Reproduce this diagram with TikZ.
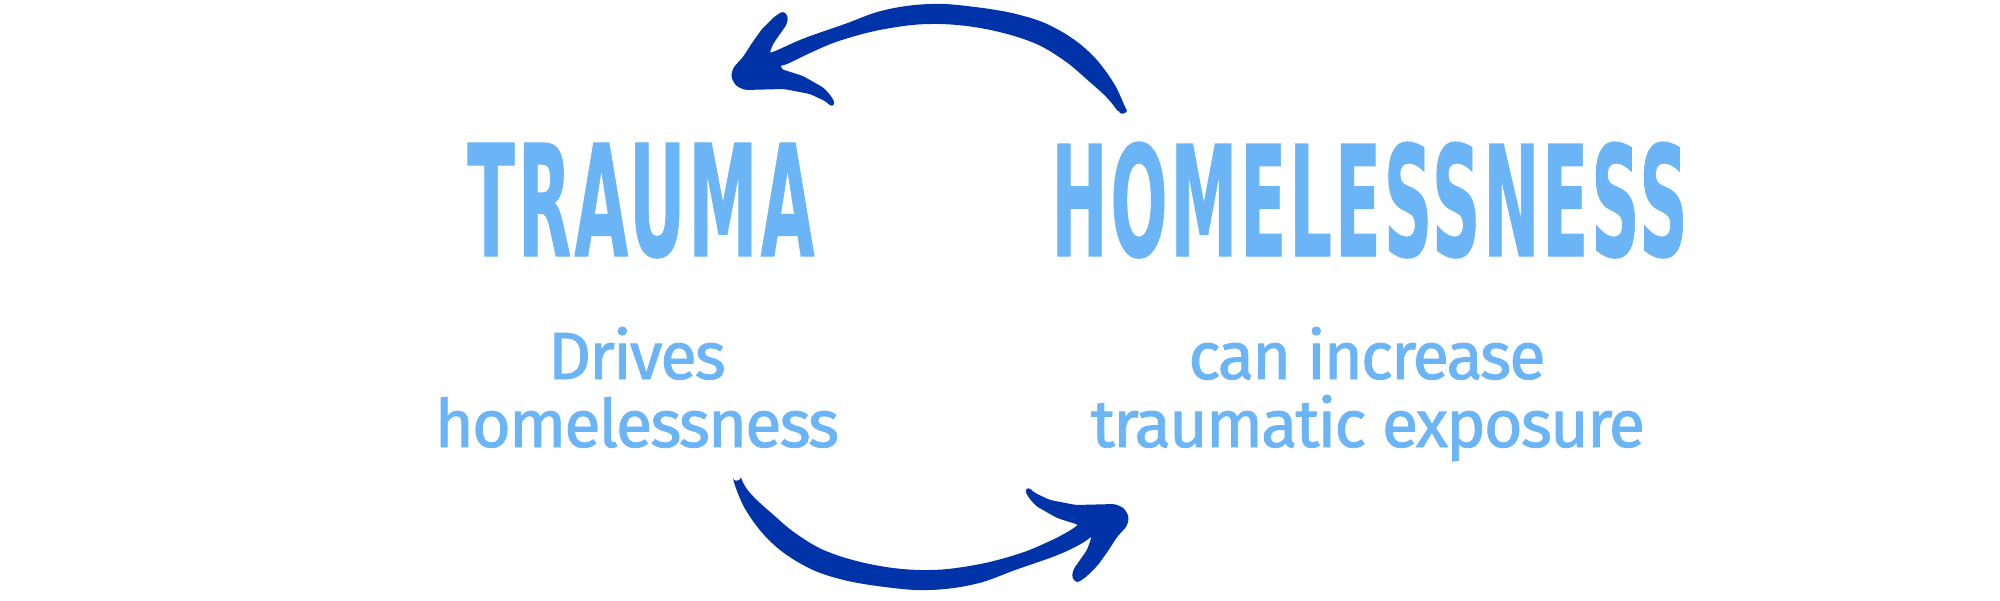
\documentclass[tikz,border=0pt]{standalone}
\usepackage{graphicx}
\usepackage{fontspec}
\setmainfont{Fira Sans}
\IfFontExistsTF{DejaVu Sans Condensed Bold}
  {\newfontfamily\titlefont{DejaVu Sans Condensed Bold}[FakeBold=0.8,LetterSpace=4]}
  {\newfontfamily\titlefont{DejaVu Sans Bold}[FakeBold=1.2,LetterSpace=4]}
\newfontfamily\subfont{Fira Sans}[FakeBold=1.2,LetterSpace=-3]
\definecolor{lightblue}{HTML}{6BB5F7}
\definecolor{arrowblue}{HTML}{0033A8}
\tikzset{
  titletext/.style={text=lightblue, inner sep=0pt, anchor=base west},
  captiontext/.style={text=lightblue, inner sep=0pt, anchor=base, font=\subfont\fontsize{33.4pt}{34pt}\selectfont},
}
\newcommand\brusharrow{%
  \fill[arrowblue, rounded corners=1.5pt]
   plot[smooth, tension=0.6] coordinates {(1127,113) (1113,82) (1088,51) (1055,28) (1020,15) (975,7) (931,4) (885,10) (842,25) (800,40) (769,55)}
   -- (773,44) -- (780,34) -- (787,24) -- (788,16) -- (783,11) -- (774,17) -- (762,29) -- (752,43) -- (743,57) -- (733,68)
   -- (731,77) -- (736,86) -- (745,90) -- (784,89) -- (810,94) -- (825,101) -- (832,107) -- (835,103) -- (831,96) -- (824,88) -- (803,76) -- (781,69)
   --plot[smooth, tension=0.6] coordinates {(781,68) (810,53) (842,40) (885,29) (931,24) (980,28) (1029,41) (1062,59) (1091,83) (1109,100) (1119,114)}
   -- cycle;}
\begin{document}
\begin{tikzpicture}[x=0.5pt,y=-0.5pt]
\fill[white] (0,0) rectangle (2000,600);
\useasboundingbox (0,0) rectangle (2000,600);
\node[titletext] (trauma) at (467,256) {\resizebox{173.5pt}{56.5pt}{\titlefont TRAUMA}};
\node[titletext] (homeless) at (1051,256) {\resizebox{318pt}{57pt}{\titlefont HOMELESSNESS}};
\node[captiontext] (drivesA) at (637,379) {Drives};
\node[captiontext] (drivesB) at (637,447) {homelessness};
\node[captiontext] (canA) at (1367,379) {can increase};
\node[captiontext] (canB) at (1368,447) {traumatic exposure};
\brusharrow
\begin{scope}[rotate around={180:(930,297)}]
\brusharrow
\end{scope}
\end{tikzpicture}
\end{document}
